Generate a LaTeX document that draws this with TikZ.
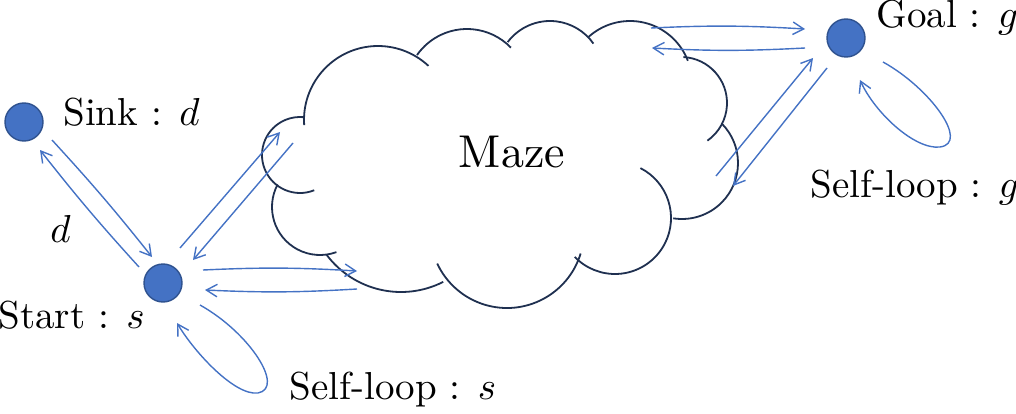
\documentclass[tikz,border=0pt]{standalone}
\usepackage{amsmath}
\usepackage{fontspec}
\setmainfont{lmroman10-regular}[Extension=.otf,ItalicFont=lmroman10-italic]
\DeclareFontShape{OML}{cmm}{m}{it}{<->cmmi10}{}
\usepackage{xcolor}
\usepackage{tikz}
\usetikzlibrary{arrows.meta}
\definecolor{stateblue}{HTML}{4472C4}
\definecolor{stateedge}{HTML}{2F528F}
\definecolor{cloudnavy}{HTML}{1F3050}

\begin{document}
\begin{tikzpicture}[x=0.5pt,y=0.5pt,>={Straight Barb[length=1.9mm,width=2.2mm]},
  state/.style={circle,draw=stateedge,fill=stateblue,line width=0.7pt,inner sep=0pt,minimum size=19pt},
  lbl/.style={inner sep=0pt,anchor=base west,font=\fontsize{19.5}{23}\selectfont},
  puff/.style={draw=cloudnavy,line width=0.9pt},
  link/.style={->,draw=stateblue,line width=0.7pt}]
  \useasboundingbox (0,0) rectangle (1016,413);
  % cloud
  \draw[puff] (300,258) ++(-68:38) arc[start angle=-68,end angle=-275,radius=38];
  \draw[puff] (378,293) ++(184:74) arc[start angle=184,end angle=47,radius=74];
  \draw[puff] (467,323) ++(145:61) arc[start angle=145,end angle=44,radius=61];
  \draw[puff] (550,339) ++(143:53) arc[start angle=143,end angle=35,radius=53];
  \draw[puff] (630,330) ++(132:62) arc[start angle=132,end angle=21,radius=62];
  \draw[puff] (681,310) ++(87:46) arc[start angle=87,end angle=-55,radius=46];
  \draw[puff] (682,250) ++(45:56) arc[start angle=45,end angle=-99,radius=56];
  \draw[puff] (615,195) ++(63:56) arc[start angle=63,end angle=-136,radius=56];
  \draw[puff] (507,182) ++(-17:77) arc[start angle=-17,end angle=-155,radius=77];
  \draw[puff] (401,214) ++(-63:93) arc[start angle=-63,end angle=-143,radius=93];
  \draw[puff] (320,206) ++(152:48) arc[start angle=152,end angle=290,radius=48];
  \node[anchor=base,inner sep=0pt,font=\fontsize{23}{28}\selectfont] (maze) at (512,246) {Maze};
  % states
  \node[state] (sink) at (24,291) {};
  \node[state] (start) at (163,130) {};
  \node[state] (goal) at (846,375) {};
  \node[lbl] (sinklbl) at (63,287) {Sink : $d$};
  \node[lbl] (startlbl) at (-2,85) {Start : $s$};
  \node[lbl] (goallbl) at (876,385) {Goal : $g$};
  \node[lbl] (dlbl) at (50,171) {$d$};
  \node[lbl] (loopslbl) at (289,14) {Self-loop : $s$};
  \node[lbl] (loopglbl) at (810,216) {Self-loop : $g$};
  % arrow ends
  \coordinate (ds1) at (52,273);  \coordinate (ds2) at (152,156);
  \coordinate (sd1) at (139,146); \coordinate (sd2) at (40,263);
  \coordinate (sm1) at (180,165); \coordinate (sm2) at (280,281);
  \coordinate (ms1) at (293,270); \coordinate (ms2) at (193,153);
  \coordinate (sm3) at (203,143); \coordinate (sm4) at (357,142);
  \coordinate (ms3) at (357,124); \coordinate (ms4) at (205,123);
  \coordinate (mg1) at (651,385); \coordinate (mg2) at (805,384);
  \coordinate (gm1) at (805,365); \coordinate (gm2) at (652,365);
  \coordinate (mg3) at (716,237); \coordinate (mg4) at (813,355);
  \coordinate (gm3) at (827,345); \coordinate (gm4) at (733,227);
  \coordinate (sl1) at (200,108); \coordinate (sl2) at (177,90);
  \coordinate (gl1) at (883,351); \coordinate (gl2) at (860,333);
  \draw[link] (ds1) to[bend left=2] (ds2);
  \draw[link] (sd1) to[bend left=2] (sd2);
  \draw[link] (sm1) -- (sm2);
  \draw[link] (ms1) -- (ms2);
  \draw[link] (sm3) to[bend left=3] (sm4);
  \draw[link] (ms3) to[bend left=3] (ms4);
  \draw[link] (mg1) to[bend left=3] (mg2);
  \draw[link] (gm1) to[bend left=3] (gm2);
  \draw[link] (mg3) -- (mg4);
  \draw[link] (gm3) -- (gm4);
  \draw[link] (sl1) .. controls (250,80) and (285,25) .. (258,20) .. controls (235,17) and (195,60) .. (sl2);
  \draw[link] (gl1) .. controls (930,325) and (970,270) .. (940,266) .. controls (915,263) and (875,300) .. (gl2);
\end{tikzpicture}
\end{document}
